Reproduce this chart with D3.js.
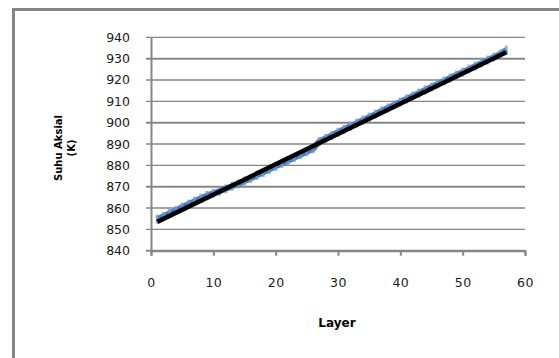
<!DOCTYPE html>
<html>
<head>
<meta charset="utf-8">
<script src="https://cdn.jsdelivr.net/npm/d3@7"></script>
<style>
  body { margin: 0; background: #fff; }
  svg { display: block; }
</style>
</head>
<body>
<div id="chart"></div>
<script>
// Layers 1..57 and axial temperature
const layers = d3.range(1, 58);
const suhu = [
  854.8, 856.1, 857.6, 858.9, 860.4, 861.8, 863.2, 864.6, 865.9, 866.9,
  867.9, 869.0, 870.2, 871.3, 872.6, 873.9, 875.3, 876.7, 878.1, 879.5,
  880.9, 882.3, 883.7, 885.0, 886.4, 887.8, 891.2, 892.6, 894.0, 895.5,
  896.9, 898.3, 899.8, 901.2, 902.6, 904.0, 905.5, 906.9, 908.3, 909.7,
  911.1, 912.5, 913.9, 915.3, 916.7, 918.1, 919.5, 920.9, 922.3, 923.7,
  925.1, 926.5, 927.9, 929.3, 930.7, 932.1, 934.0
];
// linear trend line (black)
const trendX = [1, 57];
const trendY = [853.5, 933.0];

const xTicks = [0, 10, 20, 30, 40, 50, 60];
const yTicks = [840, 850, 860, 870, 880, 890, 900, 910, 920, 930, 940];

const width = 559, height = 358;
const gridColor = '#868686';

const svg = d3.select('#chart').append('svg')
  .attr('width', width)
  .attr('height', height);

// chart frame
svg.append('rect')
  .attr('x', 13.5).attr('y', 9.5)
  .attr('width', 700).attr('height', 500)
  .attr('fill', 'none')
  .attr('stroke', gridColor)
  .attr('stroke-width', 3);

const x = d3.scaleLinear().domain([0, 60]).range([151, 525]);
const y = d3.scaleLinear().domain([840, 940]).range([250.7, 37.3]);

// horizontal gridlines
svg.append('g')
  .selectAll('line')
  .data(yTicks)
  .join('line')
  .attr('x1', x(0) - 5).attr('x2', x(60))
  .attr('y1', d => y(d)).attr('y2', d => y(d))
  .attr('stroke', gridColor)
  .attr('stroke-width', d => d % 30 === 0 || d === 840 ? 2 : 1.3);

// y axis
const yAxis = svg.append('g')
  .attr('transform', `translate(${x(0)},0)`)
  .call(d3.axisLeft(y).tickValues(yTicks).tickSize(0).tickPadding(21).tickFormat(d3.format('d')));
yAxis.select('.domain').attr('stroke', gridColor).attr('stroke-width', 2);
yAxis.selectAll('text')
  .attr('font-family', 'DejaVu Sans, Verdana, sans-serif')
  .attr('font-size', 12.5)
  .attr('fill', '#1a1a1a');

// x axis
const xAxis = svg.append('g')
  .attr('transform', `translate(0,${y(840)})`)
  .call(d3.axisBottom(x).tickValues(xTicks).tickSize(5).tickPadding(22).tickFormat(d3.format('d')));
xAxis.select('.domain').attr('stroke', gridColor).attr('stroke-width', 2);
xAxis.selectAll('.tick line').attr('stroke', gridColor).attr('stroke-width', 2);
xAxis.selectAll('text')
  .attr('font-family', 'DejaVu Sans, Verdana, sans-serif')
  .attr('font-size', 12.5)
  .attr('letter-spacing', 0.5)
  .attr('fill', '#1a1a1a');

// axis titles
svg.append('text')
  .attr('x', 337).attr('y', 327)
  .attr('text-anchor', 'middle')
  .attr('font-family', 'DejaVu Sans, Verdana, sans-serif')
  .attr('font-weight', 'bold')
  .attr('font-size', 12)
  .text('Layer');

const yTitle = svg.append('text')
  .attr('transform', 'translate(61.5,148) rotate(-90)')
  .attr('text-anchor', 'middle')
  .attr('font-family', 'DejaVu Sans, Verdana, sans-serif')
  .attr('font-weight', 'bold')
  .attr('font-size', 10);
yTitle.append('tspan').attr('x', 0).attr('dy', 0).text('Suhu Aksial');
yTitle.append('tspan').attr('x', 0).attr('dy', 13.5).text('(K)');

// blue data series
const data = layers.map((l, i) => ({ l, v: suhu[i] }));
const line = d3.line().x(d => x(d.l)).y(d => y(d.v));

svg.append('path')
  .datum(data)
  .attr('d', line)
  .attr('fill', 'none')
  .attr('stroke', '#4A7EBB')
  .attr('stroke-width', 6);

// small dash markers giving the jagged edge
svg.append('g')
  .selectAll('rect')
  .data(data)
  .join('rect')
  .attr('x', d => x(d.l) - 1.5)
  .attr('y', d => y(d.v) - 4.5)
  .attr('width', 3).attr('height', 9)
  .attr('fill', '#6F9AD2')
  .attr('opacity', 0.75);

// black trend line
svg.append('path')
  .datum(trendX.map((l, i) => ({ l, v: trendY[i] })))
  .attr('d', line)
  .attr('fill', 'none')
  .attr('stroke', '#000')
  .attr('stroke-width', 4.5)
  .attr('stroke-linecap', 'butt');
</script>
</body>
</html>
